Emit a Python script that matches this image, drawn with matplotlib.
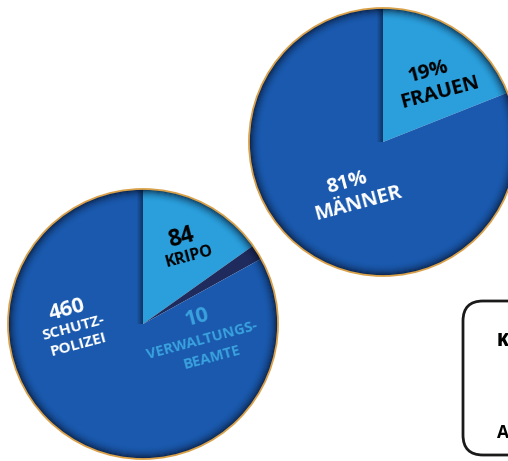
import matplotlib
matplotlib.use("Agg")
import matplotlib.pyplot as plt
from matplotlib.patches import Wedge, Circle, FancyBboxPatch, Rectangle

# Data
staff_labels = ["KRIPO", "VERWALTUNGSBEAMTE", "SCHUTZPOLIZEI"]
staff_values = [84, 10, 460]
gender_labels = ["FRAUEN", "MÄNNER"]
gender_values = [19, 81]

W, H = 508, 461
fig = plt.figure(figsize=(W / 100, H / 100), dpi=100)
ax = fig.add_axes([0, 0, 1, 1])
ax.set_xlim(0, W)
ax.set_ylim(0, H)
ax.set_aspect("equal")
ax.axis("off")

MAIN = "#1a59ad"
LIGHT = "#2a9fdc"
NAVY = "#1f2b5c"
EDGE = "#d9a14a"
FONT = "Open Sans"


def draw_pie(values, colors, center, radius):
    ax.pie(values, colors=colors, startangle=90, counterclock=False,
           center=center, radius=radius, frame=True,
           wedgeprops=dict(linewidth=0))
    clip = Circle(center, radius, transform=ax.transData)
    # shadow to the left of the vertical boundary
    for k in range(6):
        r = Rectangle((center[0] - (6 - k), center[1]), 1, radius,
                      facecolor="black", alpha=0.05 + 0.07 * k, linewidth=0)
        ax.add_patch(r)
        r.set_clip_path(clip)
    # soft inner edge shading
    n = 12
    for k in range(n):
        t = (n - k) / n
        ax.add_patch(Wedge(center, radius - k * 1.0, 0, 360, width=1.0,
                           facecolor="#050d22", alpha=0.75 * t ** 2.2,
                           linewidth=0))
    ax.add_patch(Circle(center, radius, fill=False, edgecolor=EDGE, linewidth=1.3))


# left pie (staff)
cL = (143, H - 324)
draw_pie(staff_values, [LIGHT, NAVY, MAIN], cL, 135)
# right pie (gender)
cR = (383, H - 142)
draw_pie(gender_values, [LIGHT, MAIN], cR, 134)

ax.set_xlim(0, W)
ax.set_ylim(0, H)


def label(x, y, s, size, color, rot=15, weight="bold"):
    ax.text(x, H - y, s, fontsize=size, color=color, rotation=rot,
            ha="center", va="center", fontfamily=FONT, fontweight=weight,
            rotation_mode="anchor")


# left pie labels
label(67, 310, "460", 15.5, "white")
label(73, 328, "SCHUTZ-", 11, "white")
label(79, 345, "POLIZEI", 11, "white")
label(181, 238, "84", 16.5, "black")
label(189, 257, "KRIPO", 11.5, "black")
label(197, 318, "10", 15.5, "#3aa2de")
label(202, 340, "VERWALTUNGS-", 10.5, "#3aa2de")
label(212, 358, "BEAMTE", 10.5, "#3aa2de")

# right pie labels
label(428, 72, "19%", 14.5, "black")
label(440, 93, "FRAUEN", 14.5, "black")
label(347, 183, "81%", 14.5, "white")
label(358, 204, "MÄNNER", 14.5, "white")

# partially visible box at bottom right
box = FancyBboxPatch((463, H - 455), 120, 154,
                     boxstyle="round,pad=0,rounding_size=20",
                     facecolor="white", edgecolor="#1a1a1a", linewidth=2)
ax.add_patch(box)
ax.text(497, H - 342, "K", fontsize=12.5, color="black", fontfamily=FONT,
        fontweight="heavy", ha="left", va="center")
ax.text(497, H - 433, "A", fontsize=12.5, color="black", fontfamily=FONT,
        fontweight="bold", ha="left", va="center")

fig.savefig("out.png", dpi=100)
